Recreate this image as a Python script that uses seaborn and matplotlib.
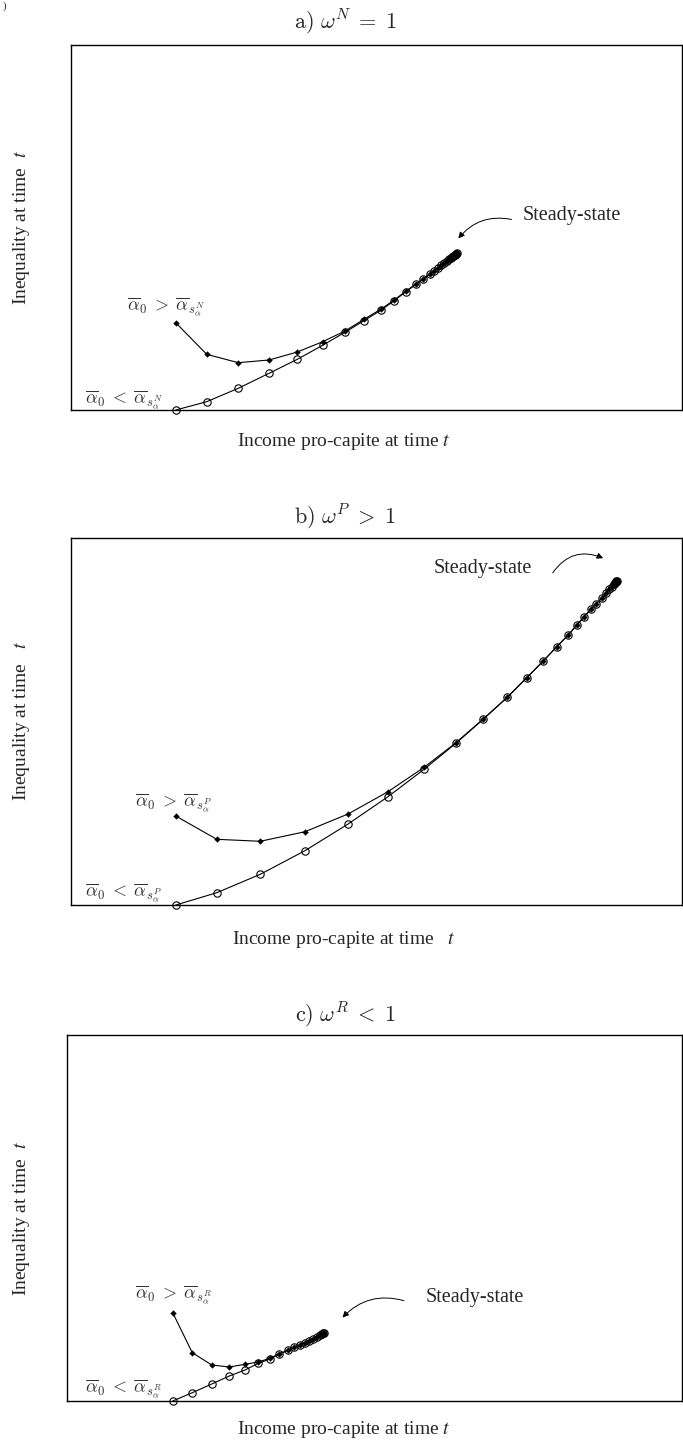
import matplotlib
matplotlib.use("Agg")
import matplotlib.pyplot as plt
import seaborn as sns

# Panel a) omega^N = 1  (income shared by both paths)
a_income = [17.14, 22.21, 27.38, 32.41, 37.04, 41.19, 44.84, 47.95, 50.69, 52.91,
            54.83, 56.46, 57.66, 58.76, 59.4, 60.1, 60.6, 61.1, 61.5, 61.9,
            62.2, 62.4, 62.6, 62.8, 62.9, 63.0, 63.07, 63.13]
a_high = [23.92, 15.26, 12.96, 13.70, 15.89, 18.71, 21.64, 24.85, 27.59, 30.14,
          32.60, 34.52, 35.97, 37.26, 38.09, 39.0, 39.65, 40.3, 40.8, 41.3,
          41.7, 41.97, 42.2, 42.5, 42.6, 42.76, 42.85, 42.93]
a_low = [0.0, 2.27, 5.95, 10.05, 13.89, 17.73, 21.29, 24.47, 27.3, 29.95,
         32.45, 34.4, 35.9, 37.2, 38.05, 38.97, 39.65, 40.3, 40.8, 41.3,
         41.7, 41.97, 42.2, 42.5, 42.6, 42.76, 42.85, 42.93]

# Panel b) omega^P > 1
b_income = [17.15, 23.86, 30.98, 38.30, 45.35, 51.88, 57.79, 63.00, 67.46, 71.39,
            74.57, 77.30, 79.49, 81.39, 82.77, 84.01, 85.06, 85.92, 86.86, 87.6,
            88.1, 88.5, 88.8, 89.0, 89.15, 89.25, 89.31]
b_high = [24.25, 17.90, 17.36, 19.97, 24.80, 30.87, 37.52, 44.22, 50.68, 56.59,
          61.91, 66.49, 70.38, 73.57, 76.29, 78.56, 80.57, 82.02, 83.57, 85.02,
          86.0, 86.78, 87.37, 87.76, 88.06, 88.25, 88.37]
b_low = [0.0, 3.35, 8.37, 14.80, 22.07, 29.51, 36.98, 44.06, 50.60, 56.55,
         61.90, 66.49, 70.38, 73.57, 76.29, 78.56, 80.57, 82.02, 83.57, 85.02,
         86.0, 86.78, 87.37, 87.76, 88.06, 88.25, 88.37]

# Panel c) omega^R < 1
c_income = [17.19, 20.37, 23.53, 26.39, 28.94, 31.11, 33.01, 34.52, 35.89, 36.96,
            37.89, 38.70, 39.40, 40.05, 40.60, 41.14, 41.5, 41.7, 41.79]
c_high = [24.13, 13.20, 9.84, 9.29, 10.03, 10.66, 11.67, 12.92, 13.85, 14.67,
          15.30, 15.93, 16.48, 17.02, 17.57, 18.03, 18.4, 18.57, 18.66]
c_low = [0.0, 2.27, 4.64, 6.83, 8.47, 10.30, 11.48, 12.85, 13.80, 14.67,
         15.30, 15.93, 16.48, 17.02, 17.57, 18.03, 18.4, 18.57, 18.66]

titles = [r"$\mathrm{a)}\ \omega^N\;=\;1$", r"$\mathrm{b)}\ \omega^P\;>\;1$", r"$\mathrm{c)}\ \omega^R\;<\;1$"]
sups = ["N", "P", "R"]

sns.set_style("white")
plt.rcParams["font.family"] = ["Liberation Serif", "DejaVu Serif"]
plt.rcParams["mathtext.fontset"] = "cm"

W, H = 683, 1450
fig = plt.figure(figsize=(W / 100, H / 100), dpi=100)

# axes boxes in pixels: left, right, top, bottom
boxes = [(71, 682, 45, 410), (71, 682, 538, 905), (67, 682, 1035, 1401)]
data = [(a_income, a_high, a_low), (b_income, b_high, b_low), (c_income, c_high, c_low)]
high_lbl = [(9.12, 28.3), (10.4, 27.9), (11.1, 29.0)]
low_lbl = [(2.29, 3.0), (2.29, 3.35), (2.9, 3.5)]
steady = [
    dict(text=(82.0, 53.4), start=(72.1, 52.2), end=(63.4, 47.0), rad=0.3),
    dict(text=(67.35, 91.8), start=(78.84, 90.5), end=(87.1, 94.5), rad=-0.4),
    dict(text=(66.3, 28.4), start=(54.8, 27.4), end=(44.8, 22.8), rad=0.3),
]
title_y = [22, 517, 1015]
xlab_y = [442, 940, 1430]
xlabels = [r"Income pro-capite at time $t$", r"Income pro-capite at time   $t$", r"Income pro-capite at time $t$"]
ylabels = [r"Inequality at time  $t$", r"Inequality at time   $t$", r"Inequality at time  $t$"]

for i in range(3):
    l, r, t, b = boxes[i]
    ax = fig.add_axes([l / W, 1 - b / H, (r - l) / W, (b - t) / H])
    x, yh, yl = data[i]
    sns.lineplot(x=x, y=yh, ax=ax, color="black", lw=0.8, marker="D", ms=2.9,
                 mec="black", mew=0.3, sort=False, estimator=None, clip_on=False)
    sns.lineplot(x=x, y=yl, ax=ax, color="black", lw=0.8, marker="o", ms=5.3,
                 markerfacecolor="none", mec="black", mew=0.8, sort=False,
                 estimator=None, clip_on=False)
    ax.set_xlim(0, 100)
    ax.set_ylim(0, 100)
    ax.set_xticks([])
    ax.set_yticks([])
    ax.set_xlabel("")
    ax.set_ylabel("")
    for s in ax.spines.values():
        s.set_linewidth(1.0)
        s.set_color("black")

    sp = sups[i]
    ax.text(*high_lbl[i], r"$\overline{\alpha}_0\;>\;\overline{\alpha}_{s_{\alpha}^{%s}}$" % sp,
            fontsize=13, ha="left", va="center", color="#333333")
    ax.text(*low_lbl[i], r"$\overline{\alpha}_0\;<\;\overline{\alpha}_{s_{\alpha}^{%s}}$" % sp,
            fontsize=13, ha="left", va="center", color="#333333")

    st = steady[i]
    ax.text(*st["text"], "Steady-state", fontsize=14.5, ha="center", va="center")
    ax.annotate("", xy=st["end"], xytext=st["start"],
                arrowprops=dict(arrowstyle="-|>", lw=0.7, color="black", mutation_scale=9,
                                shrinkA=0, shrinkB=0,
                                connectionstyle="arc3,rad=%s" % st["rad"]))

    fig.text(345 / W, 1 - title_y[i] / H, titles[i], fontsize=16, ha="center", va="center")
    fig.text(344 / W, 1 - xlab_y[i] / H, xlabels[i], fontsize=14, ha="center", va="center",
             math_fontfamily="stix")
    fig.text(22 / W, 1 - (t + b) / 2 / H, ylabels[i], fontsize=14, ha="center", va="center",
             rotation=90, math_fontfamily="stix")

fig.text(0.004, 0.999, ")", fontsize=8, ha="left", va="top")

fig.savefig("out.png", dpi=100)
